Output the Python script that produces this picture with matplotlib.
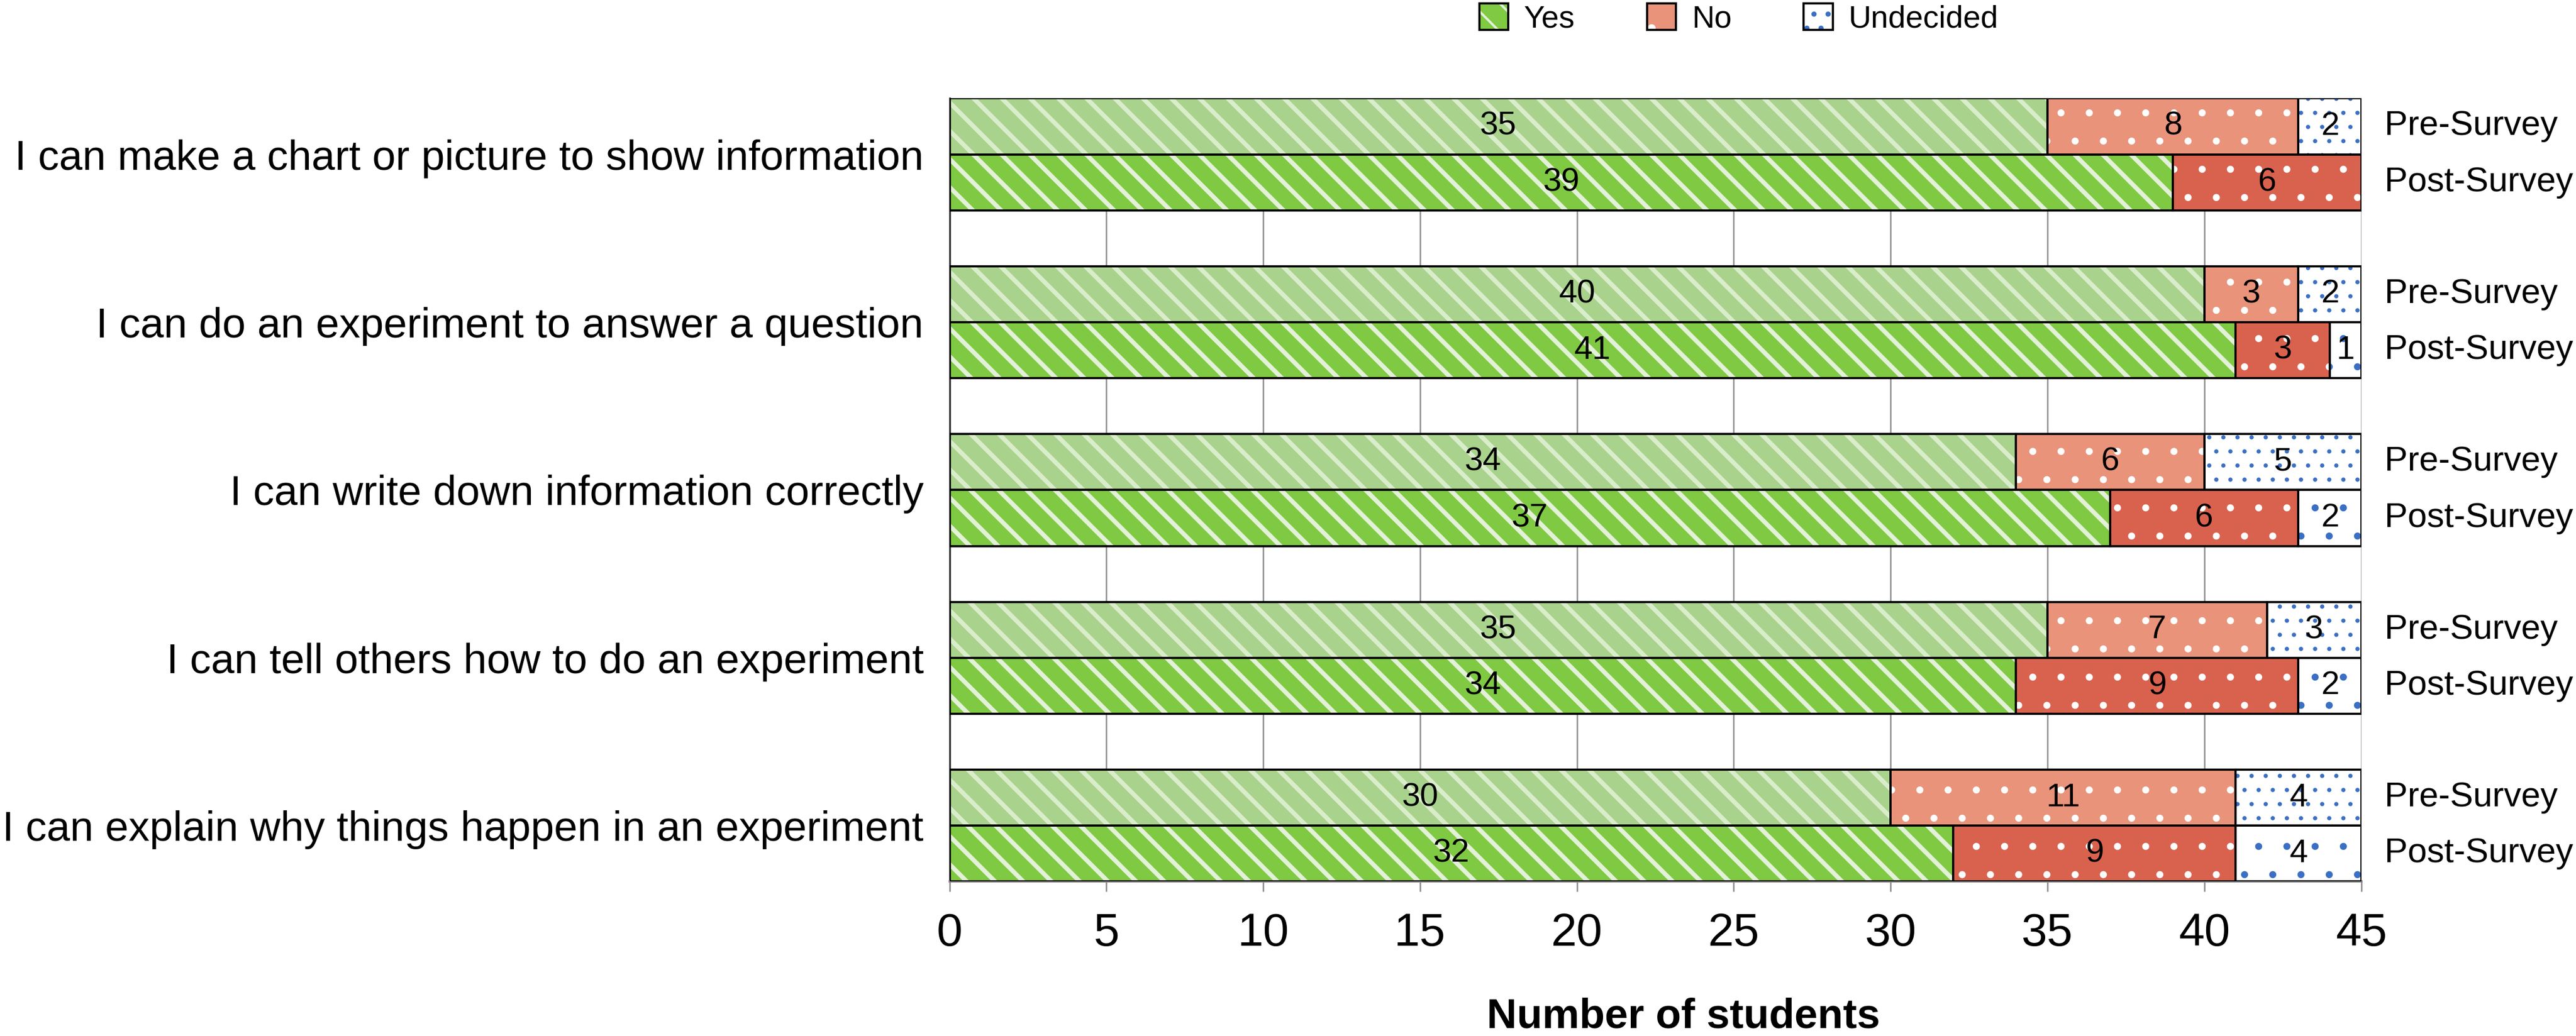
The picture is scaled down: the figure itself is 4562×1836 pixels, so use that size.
import matplotlib
matplotlib.use("Agg")
import matplotlib.pyplot as plt
from matplotlib.patches import Patch
from matplotlib.legend_handler import HandlerTuple
from matplotlib.transforms import blended_transform_factory, ScaledTranslation

plt.rcParams['font.family'] = ['Liberation Sans', 'DejaVu Sans']

# survey statements (top to bottom)
statements = [
    "I can make a chart or picture to show information",
    "I can do an experiment to answer a question",
    "I can write down information correctly",
    "I can tell others how to do an experiment",
    "I can explain why things happen in an experiment",
]
surveys = ["Pre-Survey", "Post-Survey"]
responses = ["Yes", "No", "Undecided"]

yes_pre = [35, 40, 34, 35, 30]
no_pre = [8, 3, 6, 7, 11]
und_pre = [2, 2, 5, 3, 4]
yes_post = [39, 41, 37, 34, 32]
no_post = [6, 3, 6, 9, 9]
und_post = [0, 1, 2, 2, 4]

xticks = [0, 5, 10, 15, 20, 25, 30, 35, 40, 45]

# styles: (face colour, hatch colour, hatch)
styles_pre = [("#a9d28c", "#d9edcb", "\\\\"), ("#e9937a", "#ffffff", "."), ("#ffffff", "#3a6fc4", "..")]
styles_post = [("#7fc943", "#e3f1d8", "\\\\"), ("#d9624e", "#ffffff", "."), ("#ffffff", "#3a6fc4", ".")]
hatch_lw = {"\\\\": 1.9, ".": 0.6, "..": 0.6}

fig = plt.figure(figsize=(4562 / 300, 1836 / 300), dpi=300)
ax = fig.add_axes([0.3686, 0.149, 0.548, 0.756])


def draw_seg(y, w, left, face, hc, hatch):
    with plt.rc_context({'hatch.linewidth': hatch_lw[hatch]}):
        bars = ax.barh(y, w, left=left, height=1.0, color=face, edgecolor=hc,
                       hatch=hatch, linewidth=0, zorder=2)
    for b in bars:
        if hasattr(b, 'set_hatch_linewidth'):
            b.set_hatch_linewidth(hatch_lw[hatch])
    ax.barh(y, w, left=left, height=1.0, fill=False, edgecolor='black',
            linewidth=0.9, zorder=3)


data = {
    0: [yes_pre, no_pre, und_pre],
    1: [yes_post, no_post, und_post],
}
for s, styles in enumerate([styles_pre, styles_post]):
    for i in range(len(statements)):
        y = 3 * i + s
        left = 0
        for r, series in enumerate(data[s]):
            v = series[i]
            if v > 0:
                face, hc, hatch = styles[r]
                draw_seg(y, v, left, face, hc, hatch)
                ax.text(left + v / 2, y, str(v), ha='center', va='center',
                        fontsize=14, zorder=4)
            left += v

ax.set_xlim(0, 45)
ax.set_ylim(3 * len(statements) - 1.5, -0.5)
ax.set_xticks(xticks)
ax.tick_params(axis='x', labelsize=19.7, length=4.4, width=0.6, color='#888888', pad=8.8)
ax.set_yticks([3 * i + 0.5 for i in range(len(statements))])
ax.set_yticklabels(statements, fontsize=17.9)
ax.tick_params(axis='y', length=0, pad=11)
ax.grid(axis='x', color='#8c8c8c', linewidth=0.6, zorder=0)
ax.set_axisbelow(True)
for side in ['top', 'right']:
    ax.spines[side].set_visible(False)
ax.spines['left'].set_color('#333333')
ax.spines['left'].set_linewidth(0.8)
ax.spines['bottom'].set_color('#8c8c8c')
ax.spines['bottom'].set_linewidth(1.0)
ax.set_xlabel("Number of students", fontsize=17.7, fontweight='bold')
ax.xaxis.set_label_coords(0.52, -0.148)

# Pre/Post labels on the right
trans = blended_transform_factory(ax.transAxes, ax.transData) + \
    ScaledTranslation(10 / 72, 0, fig.dpi_scale_trans)
for i in range(len(statements)):
    for s, name in enumerate(surveys):
        ax.text(1.0, 3 * i + s, name, transform=trans, ha='left', va='center',
                fontsize=14.7)

# legend
handles = []
for r in range(len(responses)):
    st = styles_post[r] if r == 0 else styles_pre[r]
    with plt.rc_context({'hatch.linewidth': hatch_lw[st[2]]}):
        p1 = Patch(facecolor=st[0], edgecolor=st[1], hatch=st[2], linewidth=0)
    if hasattr(p1, 'set_hatch_linewidth'):
        p1.set_hatch_linewidth(hatch_lw[st[2]])
    p2 = Patch(fill=False, edgecolor='black', linewidth=0.9)
    handles.append((p1, p2))
fig.legend(handles, responses, loc='center', bbox_to_anchor=(0.675, 0.982),
           ncol=3, frameon=False, fontsize=13.3, handlelength=0.93, handleheight=0.93,
           columnspacing=2.3, handletextpad=0.5, borderpad=0, borderaxespad=0,
           handler_map={tuple: HandlerTuple(ndivide=1, pad=0)})

fig.savefig("out.png", dpi=300)
